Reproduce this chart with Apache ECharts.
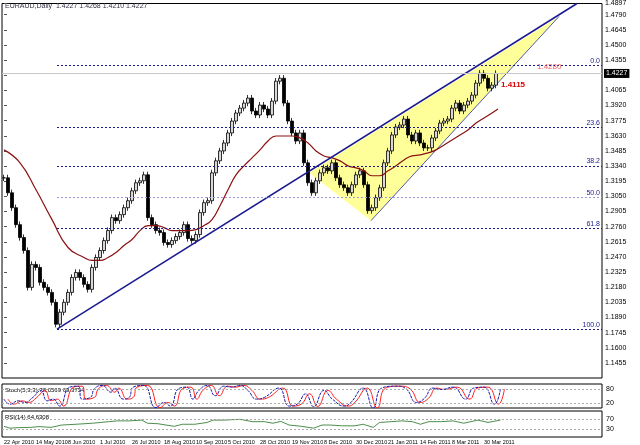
<!DOCTYPE html>
<html>
<head>
<meta charset="utf-8">
<script src="https://cdn.jsdelivr.net/npm/echarts@6/dist/echarts.min.js"></script>
<style>
  html, body { margin: 0; padding: 0; background: #fff; }
  #chart { width: 640px; height: 445px; }
</style>
</head>
<body>
<div id="chart"></div>
<script>
// closes, every second trading day (EURAUD daily)
var closes = [1.3227,1.3084,1.2941,1.2779,1.2655,1.2531,1.2178,1.2398,1.2369,1.2226,
  1.2178,1.2130,1.2035,1.1825,1.1940,1.2035,1.2130,1.2273,1.2321,1.2273,
  1.2207,1.2159,1.2369,1.2464,1.2531,1.2626,1.2722,1.2846,1.2817,1.2875,
  1.2941,1.3008,1.3103,1.3180,1.3199,1.3256,1.2846,1.2779,1.2722,1.2703,
  1.2607,1.2588,1.2626,1.2665,1.2703,1.2779,1.2646,1.2626,1.2684,1.2894,
  1.2989,1.3008,1.3275,1.3390,1.3485,1.3561,1.3657,1.3771,1.3848,1.3895,
  1.3943,1.3991,1.3867,1.3829,1.3924,1.3886,1.3829,1.3962,1.4153,1.4181,
  1.3943,1.3771,1.3657,1.3580,1.3657,1.3371,1.3180,1.3084,1.3199,1.3275,
  1.3323,1.3294,1.3371,1.3227,1.3161,1.3132,1.3084,1.3161,1.3256,1.3294,
  1.3161,1.2913,1.2941,1.3037,1.3132,1.3371,1.3485,1.3638,1.3714,1.3733,
  1.3790,1.3638,1.3580,1.3657,1.3561,1.3514,1.3514,1.3609,1.3676,1.3752,
  1.3771,1.3790,1.3895,1.3943,1.3867,1.3924,1.3962,1.4019,1.4134,1.4229,
  1.4181,1.4086,1.4115,1.4227];
var wick = 0.003;

var dateLabels = ['22 Apr 2010','14 May 2010','8 Jun 2010','1 Jul 2010','26 Jul 2010','18 Aug 2010',
  '10 Sep 2010','5 Oct 2010','28 Oct 2010','19 Nov 2010','8 Dec 2010','30 Dec 2010',
  '21 Jan 2011','14 Feb 2011','8 Mar 2011','30 Mar 2011'];

// moving average (dark red)
var maIdx = [0,4,8,12,16,20,22,24,26,28,30,32,34,36,38,40,42,44,46,48,50,52,54,56,58,60,62,64,66,68,70,
  72,74,76,78,80,82,84,86,88,90,92,94,96,98,100,102,104,106,108,110,112,114,116,118,120,122,123.5];
var maVal = [1.3495,1.3371,1.3113,1.2827,1.2560,1.2464,1.2436,1.2436,1.2464,1.2512,1.2579,1.2636,1.2722,
  1.2770,1.2770,1.2751,1.2722,1.2722,1.2722,1.2731,1.2770,1.2827,1.2960,1.3113,1.3256,1.3342,1.3418,
  1.3495,1.3580,1.3628,1.3628,1.3628,1.3609,1.3561,1.3485,1.3437,1.3418,1.3390,1.3342,1.3323,1.3294,
  1.3247,1.3247,1.3294,1.3342,1.3399,1.3437,1.3447,1.3466,1.3495,1.3542,1.3590,1.3638,1.3685,1.3752,
  1.3800,1.3848,1.3886];

// fibonacci retracement
var fibNames = ['0.0','23.6','38.2','50.0','61.8','76.4','100.0'];
var fibLevels = [1.4306,1.3709,1.3340,1.3042,1.2744,1.2375,1.1778];

// trendline and wedge
var trendIdx = [13.25,143.25];
var trendVal = [1.1778,1.4897];
var wedgeIdx = [76.25,91.75,138.75];
var wedgeVal = [1.3275,1.2817,1.4773];

// stochastic
var stochIdx = [0,1.5,3.6,5.1,7.2,9.2,10.8,12.3,13.9,16.4,18.5,19.5,21.6,22.6,24.6,26.7,27.7,29.8,31.3,32.3,
  34.9,38,40,41.6,43.6,45.7,47.2,48.7,50.8,52.8,54.9,56.9,59,61,63.1,65.1,68.7,71.3,73.3,75.4,77.4,80,
  82.1,85.1,86.7,89.8,92.3,94.4,98,100.5,103.1,105.1,107.2,109.2,112.3,115.4,117.4,120,122.6,124.1];
var stochVal = [37,16,30,23,44,73,30,37,8,87,91,37,44,80,94,66,83,37,44,87,94,1,23,8,80,87,37,73,94,51,
  91,87,94,73,37,44,83,8,16,59,6,73,37,8,23,83,0,83,91,80,23,40,83,77,87,37,83,87,16,78];

// RSI
var rsiIdx = [0,1.5,3.6,6.7,8.7,11.8,14.4,18,22.1,26.2,28.2,31.3,34.4,35.9,38.5,40.5,42.6,44.6,47.7,50.8,
  52.3,54.9,59,62.1,65.1,67.2,69.2,71.3,74.4,77.4,79.5,81.6,84.6,87.7,89.8,92.3,93.9,96.9,99.5,102.1,
  104.1,106.2,109.2,112.3,114.9,118.5,121,124.1];
var rsiVal = [41,34,36,37,40,37,46,49,53,59,62,62,65,53,51,46,41,49,49,56,65,65,68,59,59,53,60,46,41,34,
  46,46,43,43,49,37,56,59,62,59,49,59,59,62,53,65,56,65];

var N = 150;
var cats = [];
for (var i = 0; i < N; i++) cats.push(i);

var candles = closes.map(function (c, i) {
  var o = i === 0 ? c : closes[i - 1];
  return [o, c, Math.min(o, c) - wick, Math.max(o, c) + wick];
});
function pairs(a, b) { return a.map(function (v, i) { return [v, b[i]]; }); }

var dotted = { color: '#1a1a8c', type: [2, 2], width: 1 };
var tiny = { fontFamily: 'Liberation Sans', fontSize: 7, color: '#000' };

var myChart = echarts.init(document.getElementById('chart'));
var option = {
  animation: false,
  backgroundColor: '#fff',
  grid: [
    { left: 2, top: 0, width: 600, height: 378, show: true, borderColor: '#000', borderWidth: 1 },
    { left: 2, top: 384, width: 600, height: 24, show: true, borderColor: '#000', borderWidth: 1 },
    { left: 2, top: 411, width: 600, height: 26, show: true, borderColor: '#000', borderWidth: 1 }
  ],
  xAxis: [
    { type: 'category', data: cats, gridIndex: 0, show: false },
    { type: 'value', gridIndex: 0, min: -0.5, max: 149.5, show: false },
    { type: 'value', gridIndex: 1, min: -0.5, max: 149.5, show: false },
    { type: 'value', gridIndex: 2, min: -0.5, max: 149.5, show: false },
    { type: 'category', data: cats, gridIndex: 2, position: 'bottom',
      axisLine: { show: false }, axisTick: { show: false },
      axisLabel: { interval: 7, align: 'left', margin: 2, fontSize: 5.5, hideOverlap: false,
        showMinLabel: true, fontFamily: 'Liberation Sans', color: '#000',
        formatter: function (v, i) { return dateLabels[i / 8] || ''; } } }
  ],
  yAxis: [
    { type: 'value', gridIndex: 0, position: 'right', min: 1.1310, max: 1.4897, interval: 0.0145,
      splitLine: { show: false }, axisLine: { show: false }, axisTick: { show: true, length: 3, inside: false },
      axisLabel: Object.assign({ margin: 3, showMinLabel: false,
        formatter: function (v) { return v.toFixed(4); } }, tiny) },
    { type: 'value', gridIndex: 1, position: 'right', min: 0, max: 100,
      splitLine: { show: false }, axisLine: { show: false }, axisTick: { show: false },
      axisLabel: Object.assign({ margin: 4, customValues: [20, 80] }, tiny) },
    { type: 'value', gridIndex: 2, position: 'right', min: 0, max: 100,
      splitLine: { show: false }, axisLine: { show: false }, axisTick: { show: false },
      axisLabel: Object.assign({ margin: 4, customValues: [30, 70] }, tiny) }
  ],
  series: [
    { type: 'custom', xAxisIndex: 1, yAxisIndex: 0, silent: true, z: 1,
      data: [0],
      renderItem: function (params, api) {
        var pts = wedgeIdx.map(function (x, i) { return api.coord([x, wedgeVal[i]]); });
        return { type: 'group', children: [
          { type: 'polygon', shape: { points: pts }, style: { fill: '#ffff99', stroke: null } },
          { type: 'line', shape: { x1: pts[1][0], y1: pts[1][1], x2: pts[2][0], y2: pts[2][1] },
            style: { stroke: '#2030b0', lineWidth: 0.8 } }
        ] };
      } },
    { type: 'line', xAxisIndex: 1, yAxisIndex: 0, data: [], silent: true,
      markLine: { symbol: 'none', silent: true, animation: false,
        data: fibLevels.map(function (lv, i) {
          return [{ coord: [13.25, lv], name: fibNames[i],
              lineStyle: i === 5 ? { opacity: 0 } : (i === 3 ? { color: '#9a9adc', type: [2, 2], width: 1 } : dotted) },
            { coord: [149.5, lv] }];
        }),
        label: { position: 'insideEndTop', formatter: '{b}', color: '#1a1a8c', fontSize: 7,
          fontFamily: 'Liberation Sans', distance: [2, 1] } } },
    { type: 'line', xAxisIndex: 1, yAxisIndex: 0, data: [], silent: true,
      markLine: { symbol: 'none', silent: true, animation: false,
        data: [[{ coord: [-0.5, 1.4227] }, { coord: [149.5, 1.4227] }]],
        lineStyle: { color: '#c8c8c8', type: 'solid', width: 1 },
        label: { position: 'end', formatter: '1.4227', color: '#fff', backgroundColor: '#000',
          fontSize: 7, padding: [1, 2], distance: 2, fontFamily: 'Liberation Sans' } } },
    { type: 'candlestick', xAxisIndex: 0, yAxisIndex: 0, data: candles, barWidth: 3, z: 3,
      itemStyle: { color: '#d8d8d8', color0: '#000', borderColor: '#000', borderColor0: '#000', borderWidth: 0.8 } },
    { type: 'line', xAxisIndex: 1, yAxisIndex: 0, data: pairs(maIdx, maVal), smooth: true,
      showSymbol: false, lineStyle: { color: '#8b1010', width: 1.2 }, z: 4 },
    { type: 'line', xAxisIndex: 1, yAxisIndex: 0, data: pairs(trendIdx, trendVal),
      showSymbol: false, lineStyle: { color: '#1a1a90', width: 1.5 }, z: 4,
      markPoint: { symbol: 'circle', symbolSize: 0, silent: true,
        data: [
          { coord: [132, 1.4295], value: '1.4280', label: { color: '#f06060' } },
          { coord: [123, 1.4120], value: '1.4115', label: { color: '#e00000', fontWeight: 'bold' } }
        ],
        label: { show: true, position: 'right', fontSize: 8, fontFamily: 'Liberation Sans' } } },
    { type: 'line', xAxisIndex: 2, yAxisIndex: 1, data: pairs(stochIdx.map(function (x) { return x + 1; }), stochVal),
      smooth: true, showSymbol: false, lineStyle: { color: '#ff2020', width: 1 },
      markLine: { symbol: 'none', silent: true, data: [{ yAxis: 20 }, { yAxis: 80 }],
        lineStyle: { color: '#aaa', type: [2, 2], width: 1 }, label: { show: false } } },
    { type: 'line', xAxisIndex: 2, yAxisIndex: 1, data: pairs(stochIdx, stochVal),
      smooth: true, showSymbol: false, lineStyle: { color: '#1a1ab0', width: 1, type: [3, 1] } },
    { type: 'line', xAxisIndex: 3, yAxisIndex: 2, data: pairs(rsiIdx, rsiVal),
      showSymbol: false, lineStyle: { color: '#207020', width: 0.8 },
      markLine: { symbol: 'none', silent: true, data: [{ yAxis: 30 }, { yAxis: 70 }],
        lineStyle: { color: '#aaa', type: [2, 2], width: 1 }, label: { show: false } } }
  ],
  graphic: [
    { type: 'text', left: 5, top: 3, style: { text: 'EURAUD,Daily  1.4227 1.4268 1.4210 1.4227',
      fontSize: 7, fill: '#334', fontFamily: 'Liberation Sans' } },
    { type: 'text', left: 5, top: 387, style: { text: 'Stoch(5,3,3) 78.0569 69.3754',
      fontSize: 6, fill: '#000', fontFamily: 'Liberation Sans' } },
    { type: 'text', left: 5, top: 414, style: { text: 'RSI(14) 64.6308',
      fontSize: 6, fill: '#000', fontFamily: 'Liberation Sans' } }
  ]
};
myChart.setOption(option);
window.onresize = function () { myChart.resize(); };
</script>
</body>
</html>
